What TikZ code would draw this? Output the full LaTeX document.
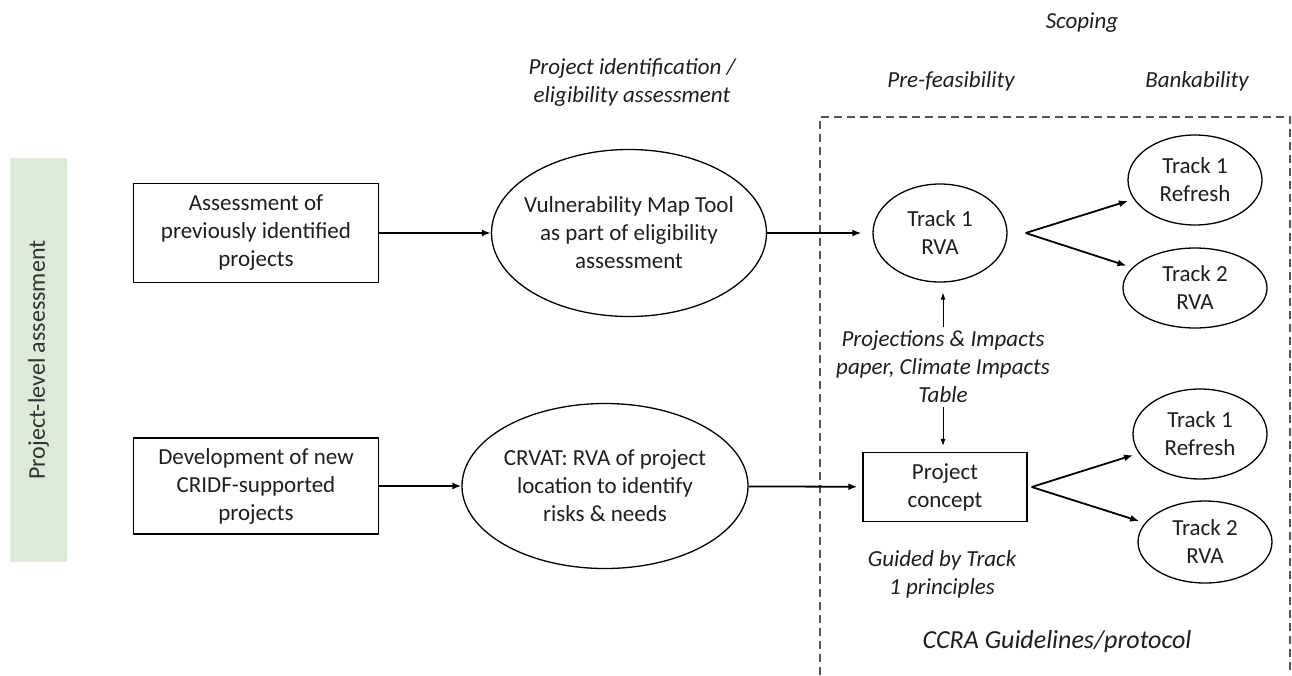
\documentclass[tikz,border=0pt]{standalone}
\usepackage{fontspec}
\setmainfont{Carlito}
\usepackage{tikz}
\usetikzlibrary{shapes.geometric,arrows.meta,calc}

\definecolor{barGreen}{RGB}{220,235,213}
\definecolor{frameGray}{RGB}{85,85,85}
\definecolor{inkBlack}{RGB}{30,30,30}

\begin{document}
\begin{tikzpicture}[x=1pt,y=-1pt,
		txt/.style={font=\fontsize{23}{28}\selectfont, align=center, text=inkBlack},
		itxt/.style={txt, font=\fontsize{23}{28}\selectfont\itshape},
		stagebox/.style={draw, line width=1.3pt, txt, minimum width=245pt, minimum height=99pt, inner sep=0pt},
		oval/.style={draw, ellipse, line width=1.3pt, txt, inner sep=-20pt},
		arr/.style={-{Latex[length=9pt,width=7pt]}, line width=1.8pt},
		thinarr/.style={-{Latex[length=7pt,width=5pt]}, line width=0.9pt}]
		\useasboundingbox (0,0) rectangle (1292,675);
		
		\node[fill=barGreen, rotate=90, minimum width=404pt, minimum height=57pt, font=\fontsize{24}{28}\selectfont, text=black!80] (level) at (38.5,360) {Project-level assessment};
		
		\node[itxt] (ident) at (632,82) {Project identification /\\eligibility assessment};
		\node[itxt] (scoping) at (1082,23) {Scoping};
		\node[itxt] (prefeas) at (951,81) {Pre-feasibility};
		\node[itxt] (bank) at (1197,81) {Bankability};
		
		\draw[frameGray, line width=1.3pt, dash pattern=on 8pt off 5pt] (820,675) |- (1290,117) -- (1290,675);
		
		\node[stagebox] (prev) at (256,233) {Assessment of\\previously identified\\projects};
		\node[oval, minimum width=275pt, minimum height=167pt] (vmt) at (629,233) {Vulnerability Map Tool\\as part of eligibility\\assessment};
		\node[stagebox, minimum height=96pt] (newp) at (256,486) {Development of new\\CRIDF-supported\\projects};
		\node[oval, minimum width=286pt, minimum height=165pt] (crvat) at (605,486) {CRVAT: RVA of project\\location to identify\\risks \& needs};
		
		\node[oval, minimum width=134pt, minimum height=98pt] (rva) at (940,233) {Track 1\\RVA};
		\node[oval, minimum width=134pt, minimum height=90pt] (refreshA) at (1195,180) {Track 1\\Refresh};
		\node[oval, minimum width=144pt, minimum height=80pt] (trackA) at (1195,288) {Track 2\\RVA};
		
		\node[itxt] (proj) at (943,367) {Projections \& Impacts\\paper, Climate Impacts\\Table};
		
		\node[draw, line width=1.3pt, txt, minimum width=164pt, minimum height=69pt, inner sep=0pt] (concept) at (945,487) {Project\\concept};
		\node[oval, minimum width=134pt, minimum height=90pt] (refreshB) at (1200,434) {Track 1\\Refresh};
		\node[oval, minimum width=134pt, minimum height=82pt] (trackB) at (1205,542) {Track 2\\RVA};
		
		\node[itxt] (guided) at (942,574) {Guided by Track\\1 principles};
		\node[itxt, font=\fontsize{26}{30}\selectfont\itshape] (ccra) at (1057,642) {CCRA Guidelines/protocol};
		
		\draw[arr] (prev) -- (vmt);
		\draw[arr, shorten >=11pt] (vmt) -- (rva);
		\draw[arr] (newp) -- (crvat);
		\draw[arr, shorten >=5pt] (crvat) -- (concept);
		
		\coordinate (forkA) at ($(rva.east)+(18,0)$);
		\draw[arr, shorten >=6pt] (forkA) -- (refreshA);
		\draw[arr, shorten >=6pt] (forkA) -- (trackA);
		
		\coordinate (forkB) at ($(concept.east)+(4,0)$);
		\draw[arr, shorten >=6pt] (forkB) -- (refreshB);
		\draw[arr, shorten >=6pt] (forkB) -- (trackB);
		
		\draw[thinarr, shorten >=10pt] (proj.north) -- (proj.north |- rva.south);
		\draw[thinarr, shorten >=6pt] (proj.south) -- (proj.south |- concept.north);
	\end{tikzpicture}
\end{document}
